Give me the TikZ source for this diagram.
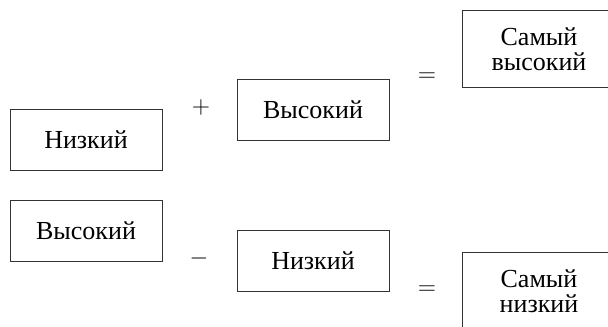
\documentclass[tikz,border=0pt]{standalone}
\usepackage{fontspec}
\setmainfont{Liberation Serif}
\tikzset{
    word/.style={draw=black!80,line width=0.5pt,minimum width=76pt,minimum height=30.5pt,
        inner sep=0pt,align=center,font=\fontsize{13}{12.5}\selectfont},
    tall/.style={word,draw=none,minimum height=38pt},
    openbox/.style={draw=black!80,line width=0.5pt},
    sign/.style={inner sep=0pt,font=\fontsize{12}{12.5}\selectfont}
}
\begin{document}
\begin{tikzpicture}[x=0.5pt,y=-0.5pt]
        \useasboundingbox (0,0) rectangle (608,326);
        \clip (0,0) rectangle (608,326);
        % top row: low + high = highest
        \node[word] (low1) at (86,139.5) {Низкий};
        \node[sign] (plus) at (201,107) {$+$};
        \node[word] (high1) at (313,109.5) {Высокий};
        \node[sign] (eqtop) at (427,77) {$=$};
        \node[tall] (highest) at (539,49) {Самый\\высокий};
        \draw[openbox] (highest.north east) -- (highest.north west)
            -- (highest.south west) -- (highest.south east);
        % bottom row: high - low = lowest
        \node[word] (high2) at (86,230.5) {Высокий};
        \node[sign] (minus) at (199,258) {$-$};
        \node[word] (low2) at (313,261) {Низкий};
        \node[sign] (eqbot) at (427,290) {$=$};
        \node[tall] (lowest) at (539,291) {Самый\\низкий};
        \draw[openbox] (lowest.north east) -- (lowest.north west)
            -- (lowest.south west);
    \end{tikzpicture}
\end{document}
